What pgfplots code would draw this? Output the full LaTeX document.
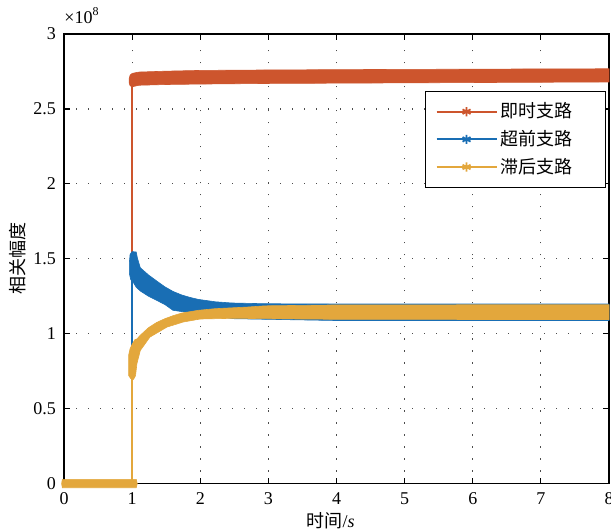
\documentclass[border=0pt]{standalone}
\usepackage{fontspec}
\setmainfont{Liberation Serif}
\newfontfamily\cjk{Noto Sans CJK SC}
\usepackage{pgfplots}
\pgfplotsset{compat=1.18}
\definecolor{cred}{HTML}{CD552D}
\definecolor{cblue}{HTML}{196EB4}
\definecolor{cyel}{HTML}{E3A73C}

\begin{document}
\begin{tikzpicture}
\begin{axis}[
  scale only axis, width=272.4pt, height=224.7pt,
  xmin=0, xmax=8, ymin=0, ymax=3,
  xtick={0,1,2,3,4,5,6,7,8},
  ytick={0,0.5,1,1.5,2,2.5,3},
  yticklabels={0,0.5,1,1.5,2,2.5,3},
  tick align=inside, major tick length=3pt,
  axis line style={black, line width=0.6pt},
  every tick/.style={black, line width=0.6pt},
  grid=major,
  grid style={black!70, line width=0.6pt, dash pattern=on 0.6pt off 5.4pt},
  tick label style={font=\fontsize{9}{10}\selectfont},
  /pgf/number format/assume math mode=true,
  yticklabel style={xshift=-0.5pt},
  xticklabel style={yshift=-1pt},
  clip=false,
  every axis y label/.style={at={(axis description cs:0,0.5)}, xshift=-23pt, rotate=90, anchor=center},
  every axis x label/.style={at={(axis description cs:0.5,0)}, xshift=-3pt, yshift=-18.5pt, anchor=center},
  ylabel={\fontsize{9}{10}\selectfont\cjk 相关幅度},
  xlabel={\fontsize{9}{10}\selectfont{\cjk 时间}/\textit{s}},
  legend style={at={(rel axis cs:0.9945,0.873)}, anchor=north east, draw=black,
    line width=0.5pt, fill=white, font=\cjk\fontsize{9}{10}\selectfont,
    inner xsep=5pt, inner ysep=4pt, row sep=1.75pt, cells={anchor=west},
    nodes={inner sep=1.5pt}},
  legend image code/.code={\draw[mark repeat=2,mark phase=2,#1] plot coordinates {(0pt,0pt)(15pt,0pt)(30pt,0pt)};},
]
% legend entries
\addlegendimage{cred, line width=0.9pt, mark=asterisk, mark size=2.3pt}
\addlegendentry{即时支路\rule{10pt}{0pt}}
\addlegendimage{cblue, line width=0.9pt, mark=asterisk, mark size=2.3pt}
\addlegendentry{超前支路\rule{10pt}{0pt}}
\addlegendimage{cyel, line width=0.9pt, mark=asterisk, mark size=2.3pt}
\addlegendentry{滞后支路\rule{10pt}{0pt}}

% prompt branch
\addplot[cred, line width=0.7pt, forget plot] coordinates {(1,0)(1,2.66)};
\addplot[fill=cred, draw=cred, line width=0.3pt, forget plot] coordinates {
  (0.955,2.700)(0.97,2.725)(1.0,2.737)(1.1,2.746)(1.5,2.752)(2,2.757)(3,2.760)
  (4,2.762)(5,2.764)(6,2.765)(7,2.767)(8,2.768)
  (8,2.680)(7,2.678)(6,2.676)(5,2.674)(4,2.672)(3,2.670)(2,2.666)(1.5,2.663)
  (1.1,2.658)(1.0,2.648)(0.97,2.655)(0.955,2.675)} -- cycle;

% early branch
\addplot[cblue, line width=0.7pt, forget plot] coordinates {(1,0)(1,1.50)};
\addplot[fill=cblue, draw=cblue, line width=0.3pt, forget plot] coordinates {
  (0.96,1.48)(0.97,1.53)(1.0,1.548)(1.06,1.545)(1.08,1.50)(1.12,1.44)(1.24,1.392)
  (1.36,1.352)(1.48,1.313)(1.6,1.282)(1.73,1.258)(1.85,1.242)(1.97,1.229)(2.22,1.213)
  (2.46,1.205)(2.95,1.200)(4,1.198)(6,1.198)(8,1.198)
  (8,1.088)(4,1.088)(2.5,1.10)(2,1.13)(1.6,1.156)(1.48,1.195)(1.24,1.25)
  (1.12,1.285)(1.06,1.31)(1.02,1.34)(0.98,1.36)(0.96,1.40)} -- cycle;

% late branch
\addplot[cyel, line width=0.7pt, forget plot] coordinates {(1,0)(1,0.72)};
\addplot[fill=cyel, draw=cyel, line width=0.3pt, forget plot] coordinates {
  (0.95,0.86)(0.97,0.90)(1.0,0.93)(1.04,0.96)(1.07,0.965)(1.12,0.99)(1.24,1.04)
  (1.36,1.075)(1.48,1.10)(1.6,1.12)(1.73,1.138)(1.97,1.156)(2.22,1.167)(2.7,1.178)
  (2.95,1.186)(4,1.192)(6,1.193)(8,1.193)
  (8,1.095)(6,1.095)(4,1.096)(3,1.100)(2.5,1.103)(2.0,1.098)(1.75,1.078)(1.51,1.044)
  (1.26,0.977)(1.12,0.888)(1.07,0.80)(1.05,0.72)(1.02,0.695)(0.98,0.70)(0.95,0.72)} -- cycle;
\addplot[fill=cyel, draw=cyel, line width=0.3pt, forget plot] coordinates {
  (-0.035,0)(-0.025,0.028)(1.06,0.028)(1.075,0)(1.06,-0.028)(-0.025,-0.028)} -- cycle;

\node[anchor=base west, inner sep=0pt, font=\fontsize{9}{10}\selectfont]
  at ([yshift=5.5pt]rel axis cs:0,1) {×10\textsuperscript{8}};
\end{axis}
\pgfresetboundingbox
\path[use as bounding box] ([shift={(-32pt,-22.5pt)}]current axis.south west)
  rectangle ([shift={(1pt,17pt)}]current axis.north east);
\end{tikzpicture}
\end{document}
